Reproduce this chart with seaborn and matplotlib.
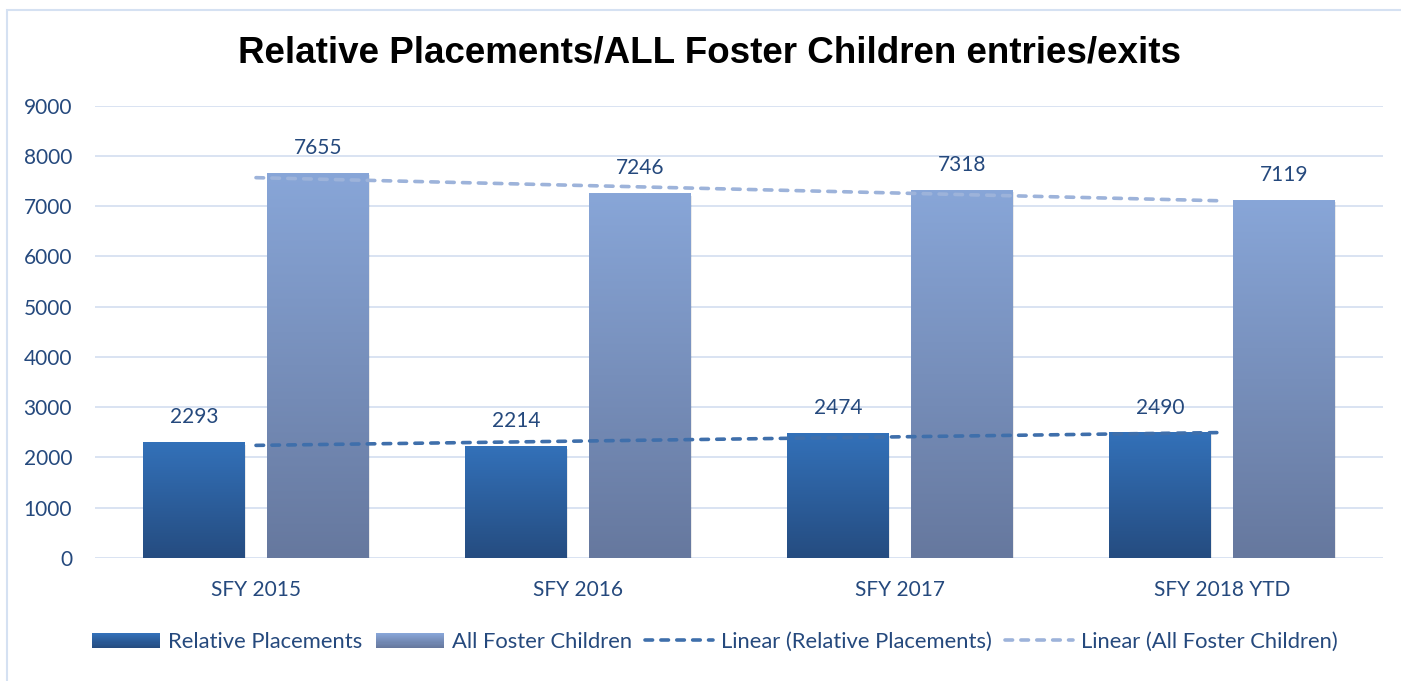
import numpy as np
import pandas as pd
import matplotlib
matplotlib.use("Agg")
import matplotlib.pyplot as plt
import seaborn as sns
from matplotlib.patches import Rectangle
from matplotlib.lines import Line2D
from matplotlib.legend_handler import HandlerBase
from matplotlib.colors import to_rgb

# ---- data ----
years = ["SFY 2015", "SFY 2016", "SFY 2017", "SFY 2018 YTD"]
relative_placements = [2293, 2214, 2474, 2490]
all_foster_children = [7655, 7246, 7318, 7119]
series_names = ["Relative Placements", "All Foster Children"]
trend_names = ["Linear (Relative Placements)", "Linear (All Foster Children)"]
y_ticks = [0, 1000, 2000, 3000, 4000, 5000, 6000, 7000, 8000, 9000]
title = "Relative Placements/ALL Foster Children entries/exits"

# ---- styling ----
grad_top = ["#3371B9", "#88A6D8"]
grad_bottom = ["#254C80", "#66789E"]
trend_colors = ["#3F6FAB", "#9DB3DA"]
text_color = "#25497D"
grid_color = "#D9E3F2"
trend_lw = 2.6
dash = (0, (2.1, 2.3))

sns.set_theme(style="white")
plt.rcParams["font.family"] = ["Lato", "DejaVu Sans"]

df = pd.DataFrame({
    "year": years * 2,
    "series": [series_names[0]] * len(years) + [series_names[1]] * len(years),
    "value": relative_placements + all_foster_children,
})

W, H = 1401, 681
fig = plt.figure(figsize=(W / 100, H / 100), dpi=100)
ax = fig.add_axes([95 / W, 1 - 558 / H, (1383 - 95) / W, (558 - 105.5) / H])

sns.barplot(data=df, x="year", y="value", hue="series", order=years,
            hue_order=series_names, palette=grad_top, width=0.77, gap=0.18,
            errorbar=None, legend=False, ax=ax, zorder=3)


def gradient(top, bottom, n=256):
    t = np.array(to_rgb(top))
    b = np.array(to_rgb(bottom))
    f = np.linspace(0, 1, n)[:, None]
    return (t * (1 - f) + b * f)[:, None, :]


# replace flat bars with vertical gradients, plus a faint drop shadow
for i, cont in enumerate(ax.containers):
    img = gradient(grad_top[i], grad_bottom[i])
    for bar in cont:
        x0, w, h = bar.get_x(), bar.get_width(), bar.get_height()
        ax.imshow(img, extent=[x0, x0 + w, 0, h], origin="upper",
                  aspect="auto", interpolation="bilinear", zorder=3)
        ax.add_patch(Rectangle((x0 + 0.004, -40), w, h, facecolor="#000000",
                               alpha=0.08, edgecolor="none", zorder=2.5))
        bar.set_facecolor("none")
        bar.set_edgecolor("none")
    ax.bar_label(cont, labels=[f"{v:.0f}" for v in cont.datavalues],
                 padding=11, fontsize=15, color=text_color)

# linear trend lines across the category positions
xpos = np.arange(len(years))
for vals, col in zip([relative_placements, all_foster_children], trend_colors):
    slope, icpt = np.polyfit(xpos, vals, 1)
    ax.plot(xpos, slope * xpos + icpt, color=col, lw=trend_lw,
            linestyle=dash, dash_capstyle="round", zorder=4)

ax.set_xlim(-0.5, len(years) - 0.5)
ax.set_ylim(0, 9000)
ax.set_yticks(y_ticks)
ax.set_yticklabels([str(v) for v in y_ticks])
ax.set_xlabel("")
ax.set_ylabel("")
ax.yaxis.grid(True, color=grid_color, lw=1.4)
ax.set_axisbelow(True)
for s in ax.spines.values():
    s.set_visible(False)
ax.tick_params(axis="y", length=0, pad=16.5, labelsize=15, labelcolor=text_color)
ax.tick_params(axis="x", length=0, pad=16, labelsize=15, labelcolor=text_color)

fig.text(710 / W, 1 - 62.5 / H, title, ha="center", va="baseline", fontsize=26.5,
         fontweight="bold", family=["Liberation Sans", "DejaVu Sans"], color="black")

# chart frame
fig.patches.append(Rectangle((7 / W, -0.2), 2, 1 - 10 / H + 0.2,
                             transform=fig.transFigure, fill=False,
                             edgecolor="#D5E1F2", lw=1.5))


class GradientPatchHandler(HandlerBase):
    def __init__(self, top, bottom, n=14):
        super().__init__()
        self.top = np.array(to_rgb(top))
        self.bottom = np.array(to_rgb(bottom))
        self.n = n

    def create_artists(self, legend, orig_handle, xdescent, ydescent,
                       width, height, fontsize, trans):
        arts = []
        sh = height / self.n
        for k in range(self.n):
            f = k / (self.n - 1)
            c = self.top * (1 - f) + self.bottom * f
            y = -ydescent + height - (k + 1) * sh
            r = Rectangle((-xdescent, y), width, sh * 1.05, facecolor=c,
                          edgecolor="none", transform=trans)
            arts.append(r)
        return arts


h_rel = Rectangle((0, 0), 1, 1)
h_all = Rectangle((0, 0), 1, 1)
h_t1 = Line2D([], [], color=trend_colors[0], lw=trend_lw, linestyle=dash,
              dash_capstyle="round")
h_t2 = Line2D([], [], color=trend_colors[1], lw=trend_lw, linestyle=dash,
              dash_capstyle="round")
leg = fig.legend([h_rel, h_all, h_t1, h_t2], series_names + trend_names,
                 loc="center", bbox_to_anchor=(715 / W, 1 - 642 / H), ncol=4,
                 frameon=False, fontsize=15.8, handlelength=3.1, handleheight=0.71,
                 handletextpad=0.36, columnspacing=0.6, borderpad=0,
                 handler_map={h_rel: GradientPatchHandler(grad_top[0], grad_bottom[0]),
                              h_all: GradientPatchHandler(grad_top[1], grad_bottom[1])})
for t in leg.get_texts():
    t.set_color(text_color)

fig.savefig("out.png", dpi=100)
